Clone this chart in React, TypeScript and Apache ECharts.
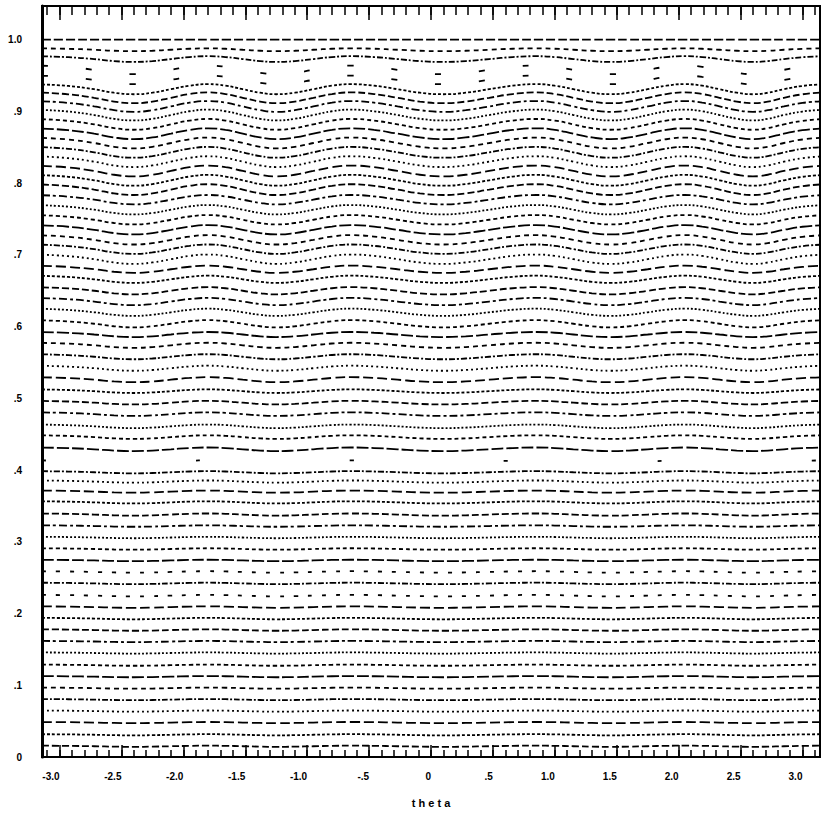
import React, { useEffect, useRef } from "react";
import * as echarts from "echarts";

// theta sample positions (read along the wave crests / troughs)
const THETA = [
  -3.1416, -2.93, -2.72, -2.56, -2.4, -2.25, -2.1, -1.95, -1.8, -1.66, -1.52,
  -1.38, -1.25, -1.1, -0.95, -0.8, -0.65, -0.46, -0.27, -0.09, 0.1, 0.28, 0.47,
  0.66, 0.85, 1.0, 1.15, 1.3, 1.45, 1.6, 1.75, 1.9, 2.05, 2.19, 2.33, 2.47, 2.6,
  2.72, 2.85, 3.0, 3.1416,
];
// relative wave profile (+1 crest, -1 trough)
const SHAPE = [
  0.95, 0.65, 0, -0.7, -1, -0.7, 0, 0.7, 1, 0.7, 0, -0.7, -1, -0.7, 0, 0.7, 1,
  0.7, 0, -0.7, -1, -0.7, 0, 0.7, 1, 0.7, 0, -0.7, -1, -0.7, 0, 0.7, 1, 0.7, 0,
  -0.7, -1, -0.7, 0, 0.65, 0.95,
];
// contour levels (mean height of each line)
const LEVELS = [
  0.015, 0.031, 0.048, 0.064, 0.08, 0.096, 0.112, 0.128, 0.145, 0.161, 0.177,
  0.193, 0.209, 0.225, 0.242, 0.258, 0.274, 0.29, 0.306, 0.322, 0.338, 0.355,
  0.37, 0.384, 0.397, 0.412, 0.429, 0.446, 0.461, 0.478, 0.494, 0.51, 0.526,
  0.542, 0.558, 0.574, 0.589, 0.604, 0.62, 0.635, 0.65, 0.666, 0.68, 0.694,
  0.708, 0.721, 0.735, 0.749, 0.763, 0.777, 0.791, 0.804, 0.817, 0.83, 0.843,
  0.856, 0.869, 0.882, 0.895, 0.907, 0.919, 0.931, 0.944, 0.958, 0.973, 0.986,
  1.0,
];
// wave amplitude of each line
const AMPS = [
  0.0008, 0.0008, 0.0008, 0.0008, 0.0008, 0.0008, 0.0008, 0.0008, 0.0008,
  0.0008, 0.001, 0.001, 0.001, 0.001, 0.001, 0.001, 0.001, 0.001, 0.001, 0.001,
  0.0015, 0.0015, 0.0015, 0.0015, 0.0015, 0.0015, 0.0025, 0.0025, 0.0025,
  0.0025, 0.0025, 0.0025, 0.0035, 0.0035, 0.0035, 0.0035, 0.0035, 0.005, 0.005,
  0.005, 0.005, 0.005, 0.005, 0.0065, 0.0065, 0.0065, 0.0065, 0.0065, 0.0065,
  0.0065, 0.0075, 0.0075, 0.0075, 0.0075, 0.0075, 0.0075, 0.0075, 0.0075,
  0.0075, 0.0075, 0.0075, 0.007, 0.006, 0.006, 0.004, 0.002, 0,
];
const X_LABELS = [-3, -2.5, -2, -1.5, -1, -0.5, 0, 0.5, 1, 1.5, 2, 2.5, 3];
const Y_LABELS = [0, 0.1, 0.2, 0.3, 0.4, 0.5, 0.6, 0.7, 0.8, 0.9, 1.0];

// styles (kept apart from data)
const DASHES: number[][] = [
  [7, 3], [3, 2], [10, 4], [2, 3], [6, 2, 2, 2], [5, 4], [12, 3], [4, 3],
  [2, 2], [8, 3, 3, 3],
];
const VERY_SPARSE = new Set([25]);
const SPARSE = new Set([62, 63]);
const SEMI_SPARSE = new Set([13, 15]);

const XMIN = -Math.PI;
const XMAX = Math.PI;
const YMAX = 1.047;

const fmtX = (v: number) => {
  const r = Math.round(v * 10) / 10;
  if (r === 0) return "0";
  const a = Math.abs(r);
  const s = a.toFixed(1);
  return (r < 0 ? "-" : "") + (a < 1 ? s.slice(1) : s);
};
const fmtY = (v: number) => {
  const r = Math.round(v * 10);
  if (r === 0) return "0";
  if (r === 10) return "1.0";
  return "." + r;
};

const FONT = "'Liberation Sans Narrow', 'Liberation Sans', 'DejaVu Sans', sans-serif";

export default function App() {
  const ref = useRef<HTMLDivElement>(null);
  useEffect(() => {
    if (!ref.current) return;
    const chart = echarts.init(ref.current, undefined, { renderer: "svg" });
    const minorTicks: number[] = [];
    for (let i = -31; i <= 31; i++) minorTicks.push(i / 10);

    const series = LEVELS.map((lv, k) => {
      let type: any = DASHES[k % DASHES.length];
      if (VERY_SPARSE.has(k)) type = [4, 150];
      else if (SPARSE.has(k)) type = [6, 38];
      else if (SEMI_SPARSE.has(k)) type = [4, 10];
      if (k === LEVELS.length - 1) type = [9, 3];
      return {
        type: "line",
        xAxisIndex: 0,
        yAxisIndex: 0,
        data: THETA.map((t, i) => [t, lv + AMPS[k] * SHAPE[i]]),
        smooth: 0.5,
        symbol: "none",
        silent: true,
        lineStyle: { color: "#000", width: 1.8, type },
      };
    });

    const baseX = {
      type: "value",
      min: XMIN,
      max: XMAX,
      splitLine: { show: false },
    };

    chart.setOption({
      animation: false,
      backgroundColor: "#fff",
      grid: {
        left: 42,
        right: 5,
        top: 6,
        bottom: 55,
        show: true,
        borderColor: "#000",
        borderWidth: 2,
        backgroundColor: "transparent",
      },
      xAxis: [
        {
          ...baseX,
          position: "bottom",
          name: "t h e t a",
          nameLocation: "middle",
          nameGap: 40,
          nameTextStyle: { fontSize: 11, fontWeight: "bold", color: "#000", fontFamily: FONT },
          axisLine: { show: true, onZero: false, lineStyle: { color: "#000", width: 2 } },
          axisTick: { show: true, inside: true, length: 7, customValues: minorTicks, lineStyle: { color: "#000", width: 1.5 } },
          axisLabel: {
            show: true,
            customValues: X_LABELS,
            formatter: fmtX,
            align: "right",
            margin: 14,
            fontSize: 10,
            fontWeight: "bold",
            color: "#000",
            fontFamily: FONT,
          },
        },
        {
          ...baseX,
          position: "bottom",
          axisLine: { show: false, onZero: false },
          axisTick: { show: true, inside: true, length: 12, customValues: X_LABELS, lineStyle: { color: "#000", width: 1.5 } },
          axisLabel: { show: false },
        },
        {
          ...baseX,
          position: "top",
          axisLine: { show: true, onZero: false, lineStyle: { color: "#000", width: 2 } },
          axisTick: { show: true, inside: true, length: 9, customValues: minorTicks, lineStyle: { color: "#000", width: 1.5 } },
          axisLabel: { show: false },
        },
        {
          ...baseX,
          position: "top",
          axisLine: { show: false, onZero: false },
          axisTick: { show: true, inside: true, length: 14, customValues: X_LABELS, lineStyle: { color: "#000", width: 1.5 } },
          axisLabel: { show: false },
        },
      ],
      yAxis: [
        {
          type: "value",
          min: 0,
          max: YMAX,
          position: "left",
          splitLine: { show: false },
          axisLine: { show: true, onZero: false, lineStyle: { color: "#000", width: 3 } },
          axisTick: { show: false },
          axisLabel: {
            show: true,
            customValues: Y_LABELS,
            formatter: fmtY,
            margin: 20,
            fontSize: 10,
            fontWeight: "bold",
            color: "#000",
            fontFamily: FONT,
            padding: [5, 0, 0, 0],
          },
        },
      ],
      series,
    });
    return () => chart.dispose();
  }, []);
  return (
    <div
      ref={ref}
      style={{ position: "fixed", left: 0, top: 0, width: 825, height: 813, background: "#fff" }}
    />
  );
}
